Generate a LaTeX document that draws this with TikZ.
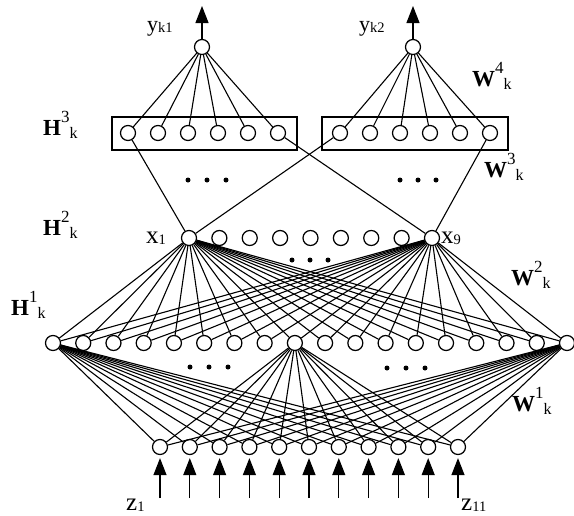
\documentclass[tikz,border=0pt]{standalone}
\usepackage{fontspec}
\setmainfont{Liberation Serif}
\usetikzlibrary{arrows.meta}
% layer label: bold letter, superscript index, lowered subscript
\newcommand\layerlbl[3]{{\fontsize{23}{23}\selectfont\bfseries #1}\raisebox{13pt}{\fontsize{17}{17}\selectfont #2}\raisebox{-3pt}{\fontsize{16}{16}\selectfont #3}}
% variable label: letter with a small subscript
\newcommand\varlbl[3]{{\fontsize{#1}{#1}\selectfont #2}\raisebox{-1.5pt}{\fontsize{14.5}{14.5}\selectfont #3}}
\begin{document}
\begin{tikzpicture}[x=1pt,y=-1pt,
  neuron/.style={circle,draw,line width=1.25pt,minimum size=15pt,inner sep=0pt,fill=white},
  link/.style={line width=1.1pt},
  flow/.style={line width=1.2pt,-{Triangle[length=17pt,width=13pt]}},
  layerbox/.style={draw,line width=1.2pt,inner sep=0pt},
  dotmark/.style={circle,fill,inner sep=0pt,minimum size=5pt},
  lbl/.style={anchor=base west,inner sep=0pt}]
\useasboundingbox (0,0) rectangle (574,515);

% boxes around the third hidden layer groups
\node[layerbox,minimum width=185pt,minimum height=33pt] (boxL) at (204.5,133.5) {};
\node[layerbox,minimum width=186pt,minimum height=33pt] (boxR) at (415,133.5) {};

% output units
\node[neuron] (out1) at (202,47) {};
\node[neuron] (out2) at (413,47) {};
\coordinate (tip1) at (202,6);
\coordinate (tip2) at (413,6);

% third hidden layer units
\foreach \i in {1,...,6} {
  \node[neuron] (p\i) at ({128+(\i-1)*30},133) {};
  \node[neuron] (q\i) at ({340+(\i-1)*30},133) {};
}

% second hidden layer units
\foreach \i in {1,...,9}
  \node[neuron] (b\i) at ({189+(\i-1)*30.375},238) {};

% first hidden layer units
\foreach \i in {1,...,18}
  \node[neuron] (a\i) at ({53+(\i-1)*30.235},343) {};

% input units and their arrows
\foreach \j in {1,...,11} {
  \node[neuron] (in\j) at ({160+(\j-1)*29.8},447) {};
  \coordinate (src\j) at ({160+(\j-1)*29.8},498);
  \draw[flow,shorten >=3pt] (src\j) -- (in\j);
}

% output arrows
\draw[flow] (out1) -- (tip1);
\draw[flow] (out2) -- (tip2);

% W4 weights
\foreach \i in {1,...,6} {
  \draw[link] (out1) -- (p\i);
  \draw[link] (out2) -- (q\i);
}

% W3 weights
\draw[link] (p1) -- (b1);
\draw[link] (p6) -- (b9);
\draw[link] (q1) -- (b1);
\draw[link] (q6) -- (b9);

% W2 weights
\foreach \i in {1,...,18} {
  \draw[link] (b1) -- (a\i);
  \draw[link] (b9) -- (a\i);
}

% W1 weights
\foreach \j in {1,...,11} {
  \draw[link] (a1) -- (in\j);
  \draw[link] (a9) -- (in\j);
  \draw[link] (a18) -- (in\j);
}

% ellipsis dots
\foreach \x [count=\n] in {188,207,226} \node[dotmark] (dl\n) at (\x,180) {};
\foreach \x [count=\n] in {400,418,436} \node[dotmark] (dr\n) at (\x,180) {};
\foreach \x [count=\n] in {292,310,328} \node[dotmark] (dm\n) at (\x,260) {};
\foreach \x [count=\n] in {190,209,228} \node[dotmark] (el\n) at (\x,367) {};
\foreach \x [count=\n] in {387,406,425} \node[dotmark] (er\n) at (\x,368) {};

% variable labels
\node[lbl] (ly1) at (147,31) {\varlbl{22}{y}{k1}};
\node[lbl] (ly2) at (359,31) {\varlbl{22}{y}{k2}};
\node[lbl] (lx1) at (146,243) {\varlbl{25}{x}{1}};
\node[lbl] (lx9) at (441,243) {\varlbl{25}{x}{9}};
\node[lbl] (lz1) at (126,510) {\varlbl{25}{z}{1}};
\node[lbl] (lz11) at (461,510) {\varlbl{25}{z}{11}};

% layer and weight labels
\node[lbl] (lH3) at (43,135) {\layerlbl{H}{3}{k}};
\node[lbl] (lH2) at (43,235) {\layerlbl{H}{2}{k}};
\node[lbl] (lH1) at (11,315) {\layerlbl{H}{1}{k}};
\node[lbl] (lW4) at (472,86) {\layerlbl{W}{4}{k}};
\node[lbl] (lW3) at (484,177) {\layerlbl{W}{3}{k}};
\node[lbl] (lW2) at (511,285) {\layerlbl{W}{2}{k}};
\node[lbl] (lW1) at (512,411) {\layerlbl{W}{1}{k}};
\end{tikzpicture}
\end{document}
